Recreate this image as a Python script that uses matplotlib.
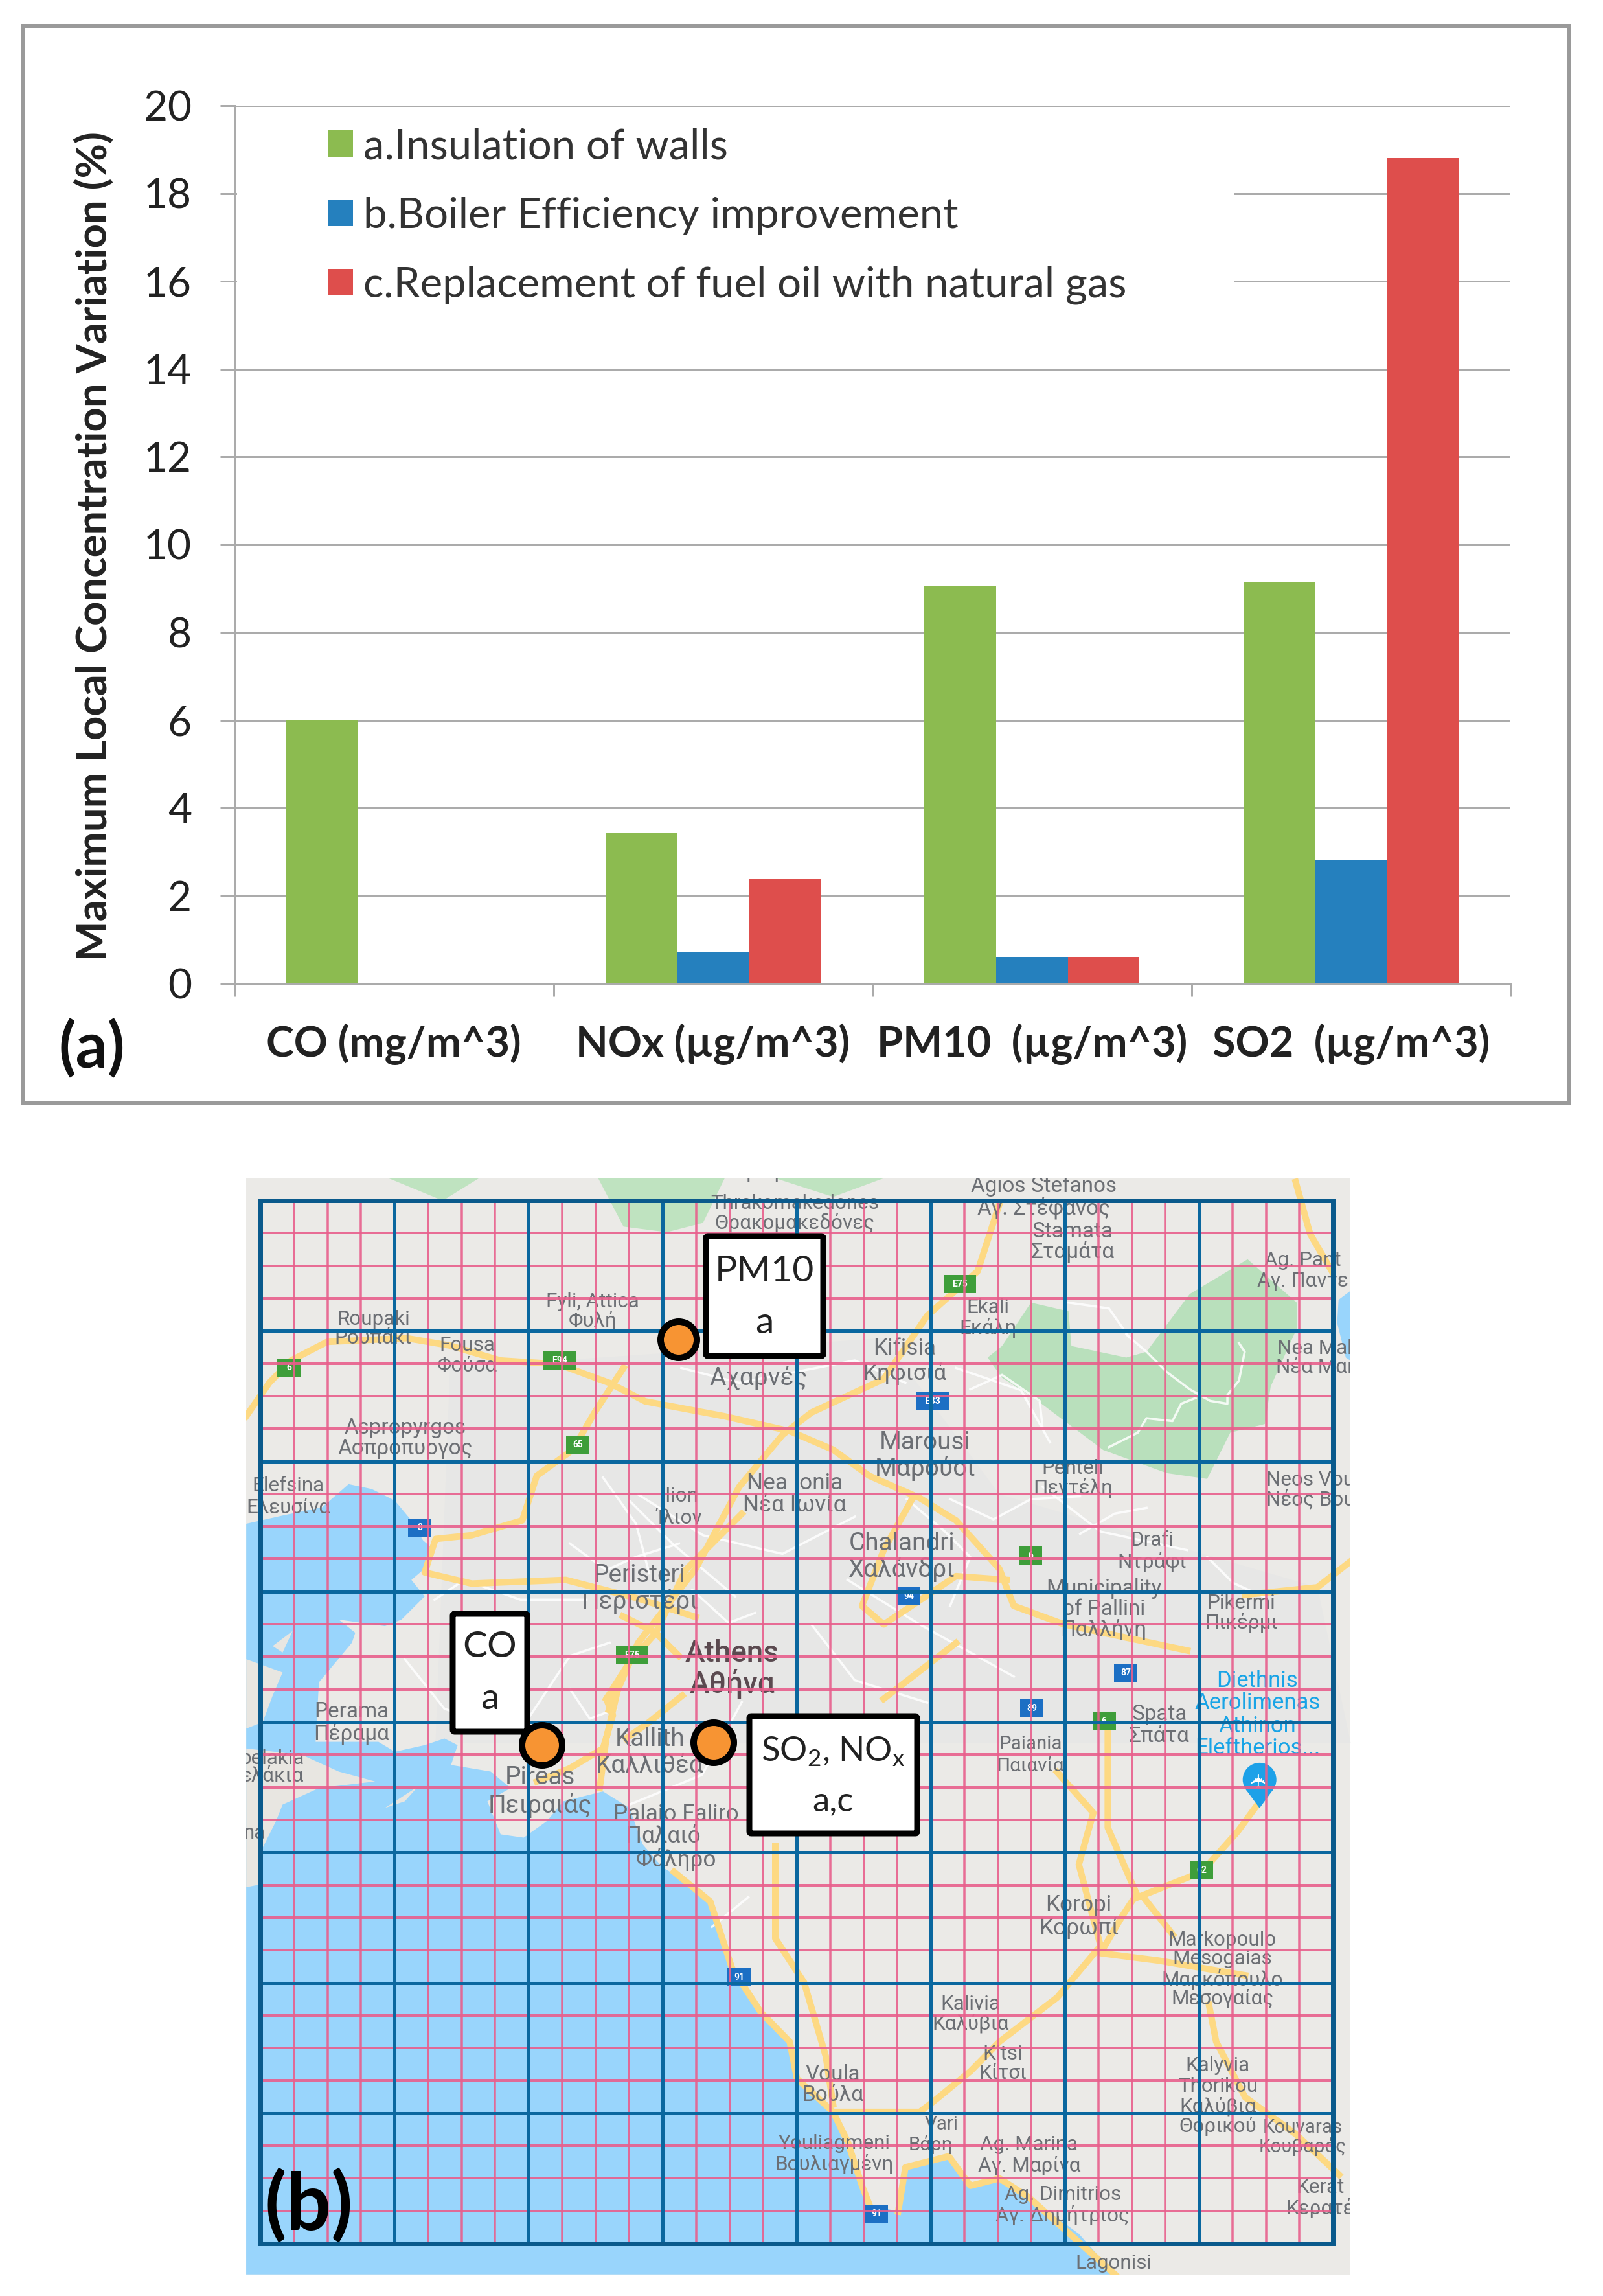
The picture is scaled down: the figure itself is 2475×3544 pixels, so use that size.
#!/usr/bin/env python3
"""Emission scenario bars (a) and the Athens map grid with peak locations (b)."""

import numpy as np
import matplotlib
matplotlib.use("Agg")
import matplotlib.pyplot as plt
from matplotlib.patches import Rectangle, Circle, Polygon, FancyBboxPatch

plt.rcParams["font.family"] = ["Lato", "DejaVu Sans"]
plt.rcParams["mathtext.default"] = "regular"

W, H = 2475, 3544
PX = 0.72  # points per image pixel at dpi 100

# ---- panel (a) values
categories = ["CO (mg/m^3)", "NOx (µg/m^3)", "PM10  (µg/m^3)", "SO2  (µg/m^3)"]
insulation = [6.0, 3.42, 9.05, 9.13]
boiler = [0.0, 0.72, 0.6, 2.8]
fuel_switch = [0.0, 2.38, 0.6, 18.8]
series_names = ["a.Insulation of walls", "b.Boiler Efficiency improvement",
                "c.Replacement of fuel oil with natural gas"]
series_colors = ["#8CBB50", "#2580BE", "#DE4E4C"]
y_ticks = [0, 2, 4, 6, 8, 10, 12, 14, 16, 18, 20]

# ---- panel (b) grid
grid_left, grid_right = 402, 2058
grid_top, grid_bottom = 1853, 3463
n_coarse = 8
n_fine = 32

# ---- panel (b) map shapes, read in the crops of the reference
sea_z4 = [(20, 200), (130, 175), (250, 150), (330, 80), (400, 95), (470, 130), (520, 190),
          (555, 250), (590, 280), (555, 340), (520, 370), (560, 420), (490, 490), (440, 510),
          (300, 490), (350, 530), (340, 560), (290, 620), (240, 680), (230, 860), (420, 860),
          (470, 890), (560, 870), (620, 850), (660, 870), (640, 930), (760, 950), (820, 1000),
          (750, 1040), (790, 1140), (860, 1150), (930, 1100), (980, 1040), (1100, 1010),
          (1180, 1060), (1220, 1170), (1280, 1240), (1400, 1310), (1450, 1420), (1490, 1560)]
sea_z3 = [(730, 790), (770, 880), (780, 980), (830, 1070), (850, 1150), (880, 1320), (920, 1340),
          (930, 1220), (990, 1190), (1020, 1270), (1060, 1250), (1100, 1300), (1170, 1400),
          (1220, 1510), (18, 1510)]
islands_z4 = [
    [(20, 610), (130, 650), (100, 720), (70, 800), (20, 820)],
    [(20, 880), (190, 900), (300, 950), (410, 980), (240, 1000), (130, 1050), (110, 1100),
     (70, 1180), (60, 1240), (70, 1290), (20, 1300)],
    [(100, 570), (160, 525), (130, 590)],
    [(440, 1060), (540, 995), (500, 1040)],
]
lake_z6 = [(1535, 410), (1495, 440), (1490, 520), (1520, 640), (1535, 650)]
forest_z6 = [(330, 600), (430, 450), (560, 480), (570, 600), (760, 640), (830, 620), (980, 420),
             (1130, 330), (1180, 300), (1350, 450), (1350, 540), (1260, 740), (1240, 870),
             (1120, 900), (1040, 1060), (900, 1040), (680, 960), (560, 870), (440, 780),
             (330, 710), (280, 640)]
north_green_z2 = [[(505, 50), (540, 180), (600, 195), (650, 170), (680, 50)],
                  [(750, 50), (830, 100), (900, 50)],
                  [(215, 50), (290, 110), (340, 50)]]

roads_z2 = [
    [(18, 690), (50, 600), (80, 540), (130, 490), (240, 480), (300, 500), (370, 540), (450, 550),
     (520, 600), (570, 650), (680, 690), (770, 730), (830, 780), (880, 850), (950, 910), (1000, 970),
     (1060, 1100), (1080, 1200), (1150, 1250), (1320, 1320)],
    [(1060, 120), (1030, 300), (960, 420), (900, 590), (800, 680), (760, 740), (700, 880),
     (640, 1100), (560, 1300), (520, 1480)],
    [(540, 560), (500, 680), (470, 780), (420, 850), (400, 970), (330, 1010), (280, 1020),
     (265, 1110), (330, 1140), (460, 1130), (560, 1180), (640, 1230)],
    [(1470, 60), (1490, 200), (1520, 300)],
    [(1546, 1080), (1500, 1150), (1400, 1170)],
    [(940, 910), (900, 1050), (870, 1200), (900, 1250), (1000, 1120), (1070, 1130)],
    [(1000, 1300), (960, 1360), (900, 1450)],
]
roads_z3 = [
    [(1140, 150), (1190, 260), (1170, 400), (1200, 620), (1140, 760), (1060, 880), (1020, 960),
     (970, 1040), (950, 1070), (830, 1070), (850, 1150), (870, 1270), (880, 1320)],
    [(1210, 30), (1210, 300), (1250, 480), (1230, 540), (1200, 640), (1280, 660), (1400, 700)],
    [(1250, 490), (1340, 420), (1390, 310), (1420, 230)],
    [(1260, 490), (1300, 590)],
    [(610, 420), (660, 500), (690, 680), (730, 800), (770, 880), (780, 980), (830, 1070)],
    [(750, 350), (750, 600), (790, 720), (820, 920), (830, 1050)],
    [(1350, 780), (1360, 880), (1400, 1030), (1470, 1130), (1530, 1240)],
    [(920, 1340), (930, 1220), (990, 1190), (1020, 1270), (1060, 1250), (1100, 1300), (1220, 1510)],
]
roads_z4 = [
    [(1090, 1000), (1110, 850), (1150, 680), (1110, 730), (1130, 780), (1100, 880), (1000, 940),
     (900, 980)],
    [(1340, 720), (1240, 800), (1170, 850)],
    [(1160, 480), (1260, 530), (1330, 600)],
    [(1520, 170), (1350, 340), (1260, 530), (1180, 620), (1110, 730)],
]
streets_z6 = [
    [(1150, 590), (1170, 620), (1150, 720), (1110, 770), (1110, 800), (1050, 790), (980, 750),
     (900, 690), (830, 620), (760, 560)],
    [(700, 950), (800, 900), (830, 850), (920, 860), (950, 800), (1000, 780)],
    [(560, 450), (700, 470), (770, 570)],
    [(150, 1130), (300, 1200), (430, 1130), (600, 1120)],
    [(220, 750), (330, 700), (460, 790), (470, 880)],
    [(1040, 1330), (1130, 1420), (1240, 1470)],
    [(0, 1130), (130, 1240), (220, 1330), (150, 1500)],
    [(600, 1250), (720, 1180), (830, 1160)],
]
streets_z4 = [
    [(500, 610), (620, 760), (740, 800)],
    [(880, 780), (1000, 600), (1120, 560)],
    [(590, 430), (680, 370), (850, 430), (1050, 430)],
    [(1180, 130), (1310, 260), (1500, 420)],
    [(1180, 1050), (1400, 960), (1520, 740)],
    [(1430, 1420), (1540, 1330)],
    [(1100, 60), (1200, 200), (1240, 350)],
    [(1000, 260), (1110, 340), (1200, 300), (1330, 260)],
    [(1370, 400), (1480, 500), (1560, 470)],
    [(1000, 700), (1060, 790), (1140, 760)],
]
streets_z2 = [
    [(620, 560), (700, 600), (860, 540), (930, 600)],
    [(560, 900), (650, 1010), (760, 1060), (860, 960)],
    [(850, 1130), (950, 1250), (1080, 1390)],
    [(800, 1250), (860, 1400), (960, 1460)],
    [(1000, 560), (1090, 620), (1130, 760)],
    [(1120, 880), (1200, 1000), (1320, 1050)],
]

# label, x, y in the reduced 1095 wide view, size, colour
grey = "#6C6F74"
map_labels = [
    ("Παρνήθα", 520, 800, 17), ("Thrakomakedones", 543, 822, 17), ("Θρακομακεδόνες", 543, 835, 17),
    ("Agios Stefanos", 713, 810, 18), ("Αγ. Στέφανος", 713, 825, 18), ("Stamata", 733, 841, 18),
    ("Σταμάτα", 733, 855, 18), ("Ag. Pant", 890, 861, 17), ("Αγ. Παντε", 890, 875, 17),
    ("Roupaki", 255, 901, 17), ("Ρουπάκι", 255, 914, 17), ("Fyli, Attica", 405, 889, 17),
    ("Φυλή", 405, 902, 17), ("Fousa", 319, 919, 17), ("Φούσα", 319, 933, 17),
    ("Αχαρνές", 518, 941, 21), ("Ekali", 675, 893, 17), ("Εκάλη", 675, 907, 17),
    ("Kifisia", 618, 921, 19), ("Κηφισιά", 618, 938, 19), ("Aspropyrgos", 277, 975, 18),
    ("Ασπρόπυργος", 277, 989, 18), ("Marousi", 632, 985, 21), ("Μαρούσι", 632, 1003, 21),
    ("Nea Ionia", 543, 1013, 19), ("Νέα Ιωνία", 543, 1028, 19), ("Ilion", 464, 1022, 17),
    ("Ίλιον", 464, 1037, 17), ("Penteli", 733, 1003, 17), ("Πεντέλη", 733, 1016, 17),
    ("Elefsina", 197, 1015, 17), ("Ελευσίνα", 197, 1030, 17), ("Neos Vou", 895, 1011, 17),
    ("Νέος Βου", 895, 1024, 17), ("Nea Mak", 900, 921, 17), ("Νέα Μακ", 900, 934, 17),
    ("Chalandri", 616, 1054, 21), ("Χαλάνδρι", 616, 1072, 21), ("Drafi", 787, 1052, 17),
    ("Ντράφι", 787, 1067, 17), ("Peristeri", 437, 1076, 21), ("Περιστέρι", 437, 1094, 21),
    ("Municipality", 754, 1085, 18), ("of Pallini", 754, 1099, 18), ("Παλλήνη", 754, 1113, 18),
    ("Pikermi", 848, 1095, 17), ("Πικέρμι", 848, 1108, 17), ("Perama", 240, 1169, 18),
    ("Πέραμα", 240, 1184, 18), ("Spata", 792, 1171, 18), ("Σπάτα", 792, 1186, 18),
    ("Kallith", 444, 1188, 21), ("Καλλιθέα", 444, 1206, 21), ("Paiania", 704, 1191, 16),
    ("Παιανία", 704, 1206, 16), ("Pireas", 369, 1214, 21), ("Πειραιάς", 369, 1233, 21),
    ("Palaio Faliro", 462, 1239, 19), ("Παλαιό", 453, 1254, 19), ("Φάληρο", 462, 1270, 19),
    ("Koropi", 737, 1301, 19), ("Κορωπί", 737, 1317, 19), ("Markopoulo", 835, 1325, 17),
    ("Mesogaias", 835, 1338, 17), ("Μαρκόπουλο", 835, 1352, 17), ("Μεσογαίας", 835, 1365, 17),
    ("Kalivia", 663, 1369, 17), ("Καλύβια", 663, 1382, 17), ("Kitsi", 685, 1403, 17),
    ("Κίτσι", 685, 1416, 17), ("Voula", 569, 1417, 18), ("Βούλα", 569, 1431, 18),
    ("Kalyvia", 832, 1411, 17), ("Thorikou", 832, 1425, 17), ("Καλύβια", 832, 1439, 17),
    ("Θορικού", 832, 1452, 17), ("Vari", 643, 1451, 16), ("Βάρη", 636, 1465, 16),
    ("Youliagmeni", 570, 1464, 17), ("Βουλιαγμένη", 570, 1478, 17), ("Ag. Marina", 703, 1465, 17),
    ("Αγ. Μαρίνα", 703, 1479, 17), ("Kouvaras", 890, 1453, 16), ("Κουβαράς", 890, 1466, 16),
    ("Ag. Dimitrios", 726, 1499, 17), ("Αγ. Δημήτριος", 726, 1513, 17), ("Kerat", 902, 1494, 17),
    ("Κερατέ", 902, 1508, 17), ("Lagonisi", 761, 1546, 17), ("pelakia", 186, 1201, 17),
    ("ελάκια", 186, 1213, 17), ("na", 174, 1252, 17),
]
label_scale = 1.33
airport_labels = [("Diethnis", 859, 1148), ("Aerolimenas", 859, 1163), ("Athinon", 859, 1179),
                  ("Eleftherios...", 859, 1194)]
athens_labels = [("Athens", 500, 1129), ("Αθήνα", 500, 1150)]

# shield text, x, y in crop 2 (first group) or crop 3 (second group), colour
green_sign, blue_sign = "#3E9E3A", "#1C6FC4"
shields_z2 = [("E75", 1005, 335, green_sign), ("E94", 452, 540, green_sign), ("6", 77, 560, green_sign),
              ("65", 477, 767, green_sign), ("E75", 552, 1332, green_sign), ("8", 258, 990, blue_sign),
              ("E83", 968, 650, blue_sign), ("6", 1103, 1065, green_sign), ("94", 935, 1175, blue_sign),
              ("87", 1235, 1380, blue_sign), ("89", 1105, 1475, blue_sign), ("6", 1205, 1510, green_sign)]
shields_z3 = [("62", 1340, 415, green_sign), ("91", 700, 705, blue_sign), ("91", 890, 1345, blue_sign)]

# text lines, outer box left/top/right/bottom, text y, text size, marker x, y, r
site_boxes = [(["PM10", "a"], (1086, 1904, 1275, 2097), [1962, 2042], 41, (1048, 2068, 28)),
              (["CO", "a"], (695, 2487, 818, 2677), [2543, 2622], 41, (837, 2694, 31)),
              (["SO$_2$, NO$_x$", "a,c"], (1153, 2645, 1420, 2834), [2704, 2781], 38, (1102, 2690, 31))]


def z2(pts):
    return [(360 + 1.116 * x, 1790 + 0.574 * y) for x, y in pts]


def z3(pts):
    return [(360 + 1.116 * x, 2650 + 0.57 * y) for x, y in pts]


def z4(pts):
    return [(370 + 0.51 * x, 2250 + 0.51 * y) for x, y in pts]


def z6(pts):
    return [(1400 + 0.446 * x, 1810 + 0.446 * y) for x, y in pts]


def draw_map(ax):
    map_clip = Rectangle((380, 1818), 1705, 1693, fc="#EBEAE7", ec="none", zorder=0)
    ax.add_patch(map_clip)

    # urban grey over the plain land
    ax.add_patch(Polygon(z2([(300, 560), (900, 480), (1060, 900), (1500, 1150), (1546, 1568), (280, 1568)]),
                         fc="#E7E7E6", ec="none", zorder=0.5))
    ax.add_patch(Polygon(z4(sea_z4) + z3(sea_z3), fc="#99D5FC", ec="none", zorder=1))
    for isl in islands_z4:
        ax.add_patch(Polygon(z4(isl), fc="#E8E6E1", ec="none", zorder=1.1))
    ax.add_patch(Polygon(z6(lake_z6), fc="#99D5FC", ec="none", zorder=1))
    ax.add_patch(Polygon(z6(forest_z6), fc="#B9E0BC", ec="none", zorder=1.2))
    for g in north_green_z2:
        ax.add_patch(Polygon(z2(g), fc="#BFE3C0", ec="none", zorder=1.2))

    for pts in [z6(s) for s in streets_z6] + [z4(s) for s in streets_z4] + [z2(s) for s in streets_z2]:
        xs, ys = zip(*pts)
        ax.plot(xs, ys, color="white", lw=3.5 * PX, alpha=0.85, zorder=1.5)
    for pts in [z2(r) for r in roads_z2] + [z3(r) for r in roads_z3] + [z4(r) for r in roads_z4]:
        xs, ys = zip(*pts)
        line, = ax.plot(xs, ys, color="#FDD983", lw=10 * PX, solid_joinstyle="round", zorder=1.6)
        line.set_clip_path(map_clip)

    for shields, conv in ((shields_z2, z2), (shields_z3, z3)):
        for txt, zx, zy, col in shields:
            (x, y), = conv([(zx, zy)])
            wd = 50 if len(txt) == 3 else 36
            ax.add_patch(Rectangle((x - wd / 2, y - 14), wd, 28, fc=col, ec="none", zorder=1.7))
            ax.text(x, y, txt, color="white", fontsize=10, fontweight="bold", ha="center", va="center",
                    family=["Roboto"], zorder=1.8)

    for txt, sx, sy, size in map_labels:
        t = ax.text(sx * 2.26, sy * 2.26, txt, color=grey, fontsize=size * label_scale, ha="center", va="center",
                    family=["Roboto", "DejaVu Sans"], zorder=2, clip_on=True)
        t.set_clip_path(map_clip)
    for txt, sx, sy in airport_labels:
        ax.text(sx * 2.26, sy * 2.26, txt, color="#19A4E6", fontsize=25, ha="center", va="center",
                family=["Roboto", "DejaVu Sans"], zorder=2)
    for txt, sx, sy in athens_labels:
        ax.text(sx * 2.26, sy * 2.26, txt, color="#5B4A50", fontsize=33, ha="center", va="center",
                fontweight="medium", family=["Roboto", "DejaVu Sans"], zorder=2)

    # airport pin
    (px, py), = z3([(1420, 170)])
    ax.add_patch(Circle((px, py), 26, fc="#1DA1E8", ec="none", zorder=2))
    ax.add_patch(Polygon([(px - 22, py + 14), (px + 22, py + 14), (px, py + 44)], fc="#1DA1E8", ec="none", zorder=2))
    ax.text(px, py, "✈", rotation=90, color="white", fontsize=22, ha="center", va="center",
            family=["DejaVu Sans"], zorder=2.1)

    # nested grids, the fine one underneath
    fine_x = np.linspace(grid_left, grid_right, n_fine + 1)
    fine_y = np.linspace(grid_top, grid_bottom, n_fine + 1)
    coarse_x = np.linspace(grid_left, grid_right, n_coarse + 1)
    coarse_y = np.linspace(grid_top, grid_bottom, n_coarse + 1)
    ax.vlines(fine_x, grid_top, grid_bottom, color="#E85F8C", lw=3.5 * PX, alpha=0.9, zorder=3)
    ax.hlines(fine_y, grid_left, grid_right, color="#E85F8C", lw=4 * PX, alpha=0.9, zorder=3)
    ax.vlines(coarse_x, grid_top, grid_bottom, color="#0A679F", lw=5 * PX, zorder=3.2)
    ax.hlines(coarse_y, grid_left, grid_right, color="#0A679F", lw=5 * PX, zorder=3.2)
    ax.add_patch(Rectangle((grid_left, grid_top), grid_right - grid_left, grid_bottom - grid_top,
                           fc="none", ec="#0A5A8C", lw=7 * PX, zorder=3.3))

    for lines, (l, t, r, b), ys, size, (mx, my, mr) in site_boxes:
        ax.add_patch(FancyBboxPatch((l + 4, t + 4), r - l - 8, b - t - 8, boxstyle="round,pad=0,rounding_size=3",
                                    fc="white", ec="black", lw=9 * PX, zorder=4))
        for line, y in zip(lines, ys):
            ax.text((l + r) / 2, y, line, color="#222222", fontsize=size, ha="center", va="center", zorder=4.2)
        ax.add_patch(Circle((mx, my), mr, fc="#F79433", ec="black", lw=10 * PX, zorder=4.5))

    ax.text(477, 3405, "(b)", color="black", fontsize=88, fontweight="bold", ha="center", va="center", zorder=5)


fig = plt.figure(figsize=(W / 100, H / 100), dpi=100, facecolor="white")

canvas = fig.add_axes([0, 0, 1, 1], zorder=0)
canvas.set_xlim(0, W)
canvas.set_ylim(H, 0)
canvas.axis("off")
canvas.add_patch(Rectangle((35, 40), 2388, 1662, fc="white", ec="#9A9A9A", lw=6 * PX))
canvas.text(142, 1618, "(a)", color="#111111", fontsize=70, fontweight="bold", ha="center", va="center")
draw_map(canvas)

ax = fig.add_axes([362 / W, 1 - 1518 / H, 1970 / W, 1355 / H], zorder=1)
ax.patch.set_alpha(0)
x = np.arange(len(categories))
bar_w = 0.2244
for off, vals, name, col in zip((-1, 0, 1), (insulation, boiler, fuel_switch), series_names, series_colors):
    ax.bar(x + off * bar_w, vals, bar_w, color=col, label=name, zorder=3)

ax.set_xlim(-0.5, 3.5)
ax.set_ylim(0, 20)
ax.set_yticks(y_ticks)
ax.yaxis.grid(True, color="#ABABAB", lw=3 * PX)
ax.set_axisbelow(True)
# the legend sat on a white box that hid the gridlines behind it
ax.add_patch(Rectangle((0.002, 14.4), (1902 - 362) / 1970, 5.2, transform=ax.get_yaxis_transform(),
                       fc="white", ec="none", zorder=2))
ax.tick_params(axis="y", length=22 * PX, width=3 * PX, color="#ABABAB", pad=44 * PX, labelsize=46,
               labelcolor="#222222")
ax.set_xticks(np.arange(len(categories) + 1) - 0.5)
ax.set_xticklabels([])
ax.set_xticks(x, minor=True)
ax.set_xticklabels(categories, minor=True, fontweight="bold", fontsize=46.5, color="#222222")
ax.tick_params(axis="x", which="major", length=20 * PX, width=3 * PX, color="#ABABAB")
ax.tick_params(axis="x", which="minor", length=0, pad=62 * PX)
for s in ("top", "right"):
    ax.spines[s].set_visible(False)
for s in ("left", "bottom"):
    ax.spines[s].set_color("#ABABAB")
    ax.spines[s].set_linewidth(3 * PX)
ax.set_ylabel("Maximum Local Concentration Variation (%)", fontweight="bold", fontsize=47, color="#222222")
ax.yaxis.set_label_coords((176 - 362) / 1970, 0.498)
ax.legend(loc="upper left", bbox_to_anchor=((506 - 362) / 1970, 1 - (197 - 163) / 1355), frameon=False,
          fontsize=47, labelcolor="#333333", handlelength=0.6, handleheight=0.6, handletextpad=0.25,
          labelspacing=0.73, borderpad=0, borderaxespad=0)

fig.savefig("out.png", dpi=100, facecolor="white")
